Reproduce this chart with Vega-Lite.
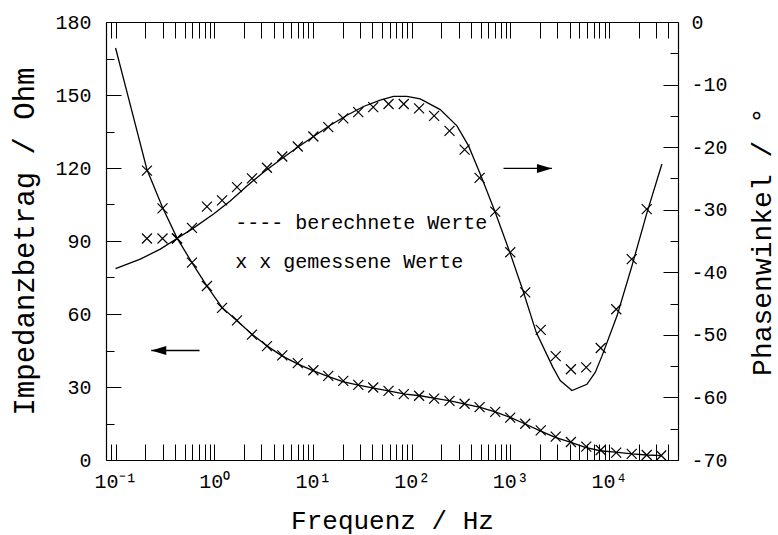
{
  "$schema": "https://vega.github.io/schema/vega-lite/v6.json",
  "width": 572,
  "height": 438,
  "autosize": {"type": "none"},
  "padding": {"left": 106, "top": 22, "right": 100, "bottom": 75},
  "background": "white",
  "config": {
    "view": {"stroke": null},
    "font": "Liberation Mono",
    "axis": {
      "domainColor": "#000", "domainWidth": 1.2, "tickColor": "#000", "tickWidth": 1,
      "labelColor": "#000", "titleColor": "#000", "labelFont": "Liberation Mono", "titleFont": "Liberation Mono",
      "titleFontWeight": "normal", "labelFontSize": 20, "titleFontSize": 29, "grid": false,
      "labelFlush": false, "labelOverlap": false
    }
  },
  "datasets": {
    "zLine": [
      {"f": 0.1, "z": 169.3}, {"f": 0.1442, "z": 144.4}, {"f": 0.2079, "z": 119.4}, {"f": 0.2994, "z": 103.8},
      {"f": 0.4188, "z": 91.3}, {"f": 0.5942, "z": 81.1}, {"f": 0.8433, "z": 71.5}, {"f": 1.197, "z": 62.7},
      {"f": 1.698, "z": 57.2}, {"f": 2.41, "z": 51.7}, {"f": 3.42, "z": 46.9}, {"f": 4.852, "z": 42.8},
      {"f": 7.047, "z": 39.4}, {"f": 10.14, "z": 36.6}, {"f": 14.39, "z": 34.3}, {"f": 20.42, "z": 32.1},
      {"f": 28.97, "z": 30.8}, {"f": 41.11, "z": 29.5}, {"f": 58.34, "z": 28.4}, {"f": 86.1, "z": 27.1},
      {"f": 122.2, "z": 26.4}, {"f": 173.4, "z": 25.3}, {"f": 246.1, "z": 24.3}, {"f": 349.3, "z": 23.0},
      {"f": 495.5, "z": 21.6}, {"f": 703.1, "z": 19.8}, {"f": 997.7, "z": 17.5}, {"f": 1416, "z": 14.8},
      {"f": 2009, "z": 12.0}, {"f": 2851, "z": 9.3}, {"f": 4045, "z": 7.3}, {"f": 5741, "z": 5.2},
      {"f": 8143, "z": 3.8}, {"f": 11560, "z": 3.2}, {"f": 17060, "z": 2.5}, {"f": 24210, "z": 2.05},
      {"f": 34590, "z": 1.8}
    ],
    "zMeas": [
      {"f": 0.208, "z": 118.9}, {"f": 0.299, "z": 103.4}, {"f": 0.419, "z": 91.1}, {"f": 0.594, "z": 81.1},
      {"f": 0.843, "z": 71.5}, {"f": 1.2, "z": 62.5}, {"f": 1.7, "z": 57.4}, {"f": 2.41, "z": 51.5},
      {"f": 3.42, "z": 46.8}, {"f": 4.89, "z": 43.0}, {"f": 7.02, "z": 39.8}, {"f": 10.1, "z": 36.9},
      {"f": 14.3, "z": 34.6}, {"f": 20.3, "z": 32.5}, {"f": 28.8, "z": 30.9}, {"f": 40.8, "z": 29.8},
      {"f": 58.3, "z": 28.4}, {"f": 83.2, "z": 27.1}, {"f": 119, "z": 26.4}, {"f": 169, "z": 25.2},
      {"f": 242, "z": 24.3}, {"f": 344, "z": 23.1}, {"f": 488, "z": 21.7}, {"f": 703, "z": 19.8},
      {"f": 998, "z": 17.4}, {"f": 1416, "z": 14.9}, {"f": 2032, "z": 12.2}, {"f": 2884, "z": 9.6},
      {"f": 4111, "z": 7.4}, {"f": 5875, "z": 5.5}, {"f": 8240, "z": 4.1}, {"f": 11830, "z": 3.0},
      {"f": 16980, "z": 2.5}, {"f": 24100, "z": 2.05}, {"f": 33800, "z": 1.85}
    ],
    "pLine": [
      {"f": 0.1, "p": -39.4}, {"f": 0.178, "p": -37.9}, {"f": 0.284, "p": -36.3}, {"f": 0.419, "p": -34.6},
      {"f": 0.594, "p": -33.1}, {"f": 0.984, "p": -30.7}, {"f": 1.452, "p": -28.6}, {"f": 2.145, "p": -26.2},
      {"f": 3.159, "p": -24.0}, {"f": 4.664, "p": -22.0}, {"f": 6.886, "p": -20.1}, {"f": 10.14, "p": -18.3},
      {"f": 14.97, "p": -16.5}, {"f": 22.11, "p": -14.9}, {"f": 32.56, "p": -13.5}, {"f": 48.07, "p": -12.5},
      {"f": 65.55, "p": -11.9}, {"f": 89.6, "p": -11.9}, {"f": 122.2, "p": -12.3}, {"f": 194.9, "p": -14.0},
      {"f": 287.7, "p": -16.6}, {"f": 377.3, "p": -19.8}, {"f": 495.5, "p": -24.3}, {"f": 703, "p": -30.4},
      {"f": 998, "p": -37.0}, {"f": 1360, "p": -43.2}, {"f": 1830, "p": -49.6}, {"f": 2701, "p": -55.2},
      {"f": 3203, "p": -57.3}, {"f": 4209, "p": -58.9}, {"f": 5972, "p": -57.9}, {"f": 7248, "p": -56.0},
      {"f": 8475, "p": -53.4}, {"f": 12030, "p": -47.0}, {"f": 17060, "p": -39.0}, {"f": 24210, "p": -30.5},
      {"f": 34360, "p": -22.7}
    ],
    "pMeas": [
      {"f": 0.208, "p": -34.6}, {"f": 0.299, "p": -34.6}, {"f": 0.419, "p": -34.6}, {"f": 0.594, "p": -32.9},
      {"f": 0.843, "p": -29.5}, {"f": 1.2, "p": -28.5}, {"f": 1.7, "p": -26.4}, {"f": 2.41, "p": -25.0},
      {"f": 3.42, "p": -23.3}, {"f": 4.89, "p": -21.5}, {"f": 7.02, "p": -19.9}, {"f": 10.1, "p": -18.3},
      {"f": 14.3, "p": -16.8}, {"f": 20.3, "p": -15.4}, {"f": 28.8, "p": -14.4}, {"f": 40.8, "p": -13.6},
      {"f": 58.3, "p": -13.1}, {"f": 83.2, "p": -13.1}, {"f": 119, "p": -13.8}, {"f": 169, "p": -15.0},
      {"f": 242, "p": -17.4}, {"f": 344, "p": -20.4}, {"f": 488, "p": -24.9}, {"f": 703, "p": -30.3},
      {"f": 998, "p": -36.8}, {"f": 1416, "p": -43.2}, {"f": 2032, "p": -49.2}, {"f": 2884, "p": -53.4},
      {"f": 4111, "p": -55.5}, {"f": 5875, "p": -55.2}, {"f": 8240, "p": -52.1}, {"f": 11830, "p": -45.9},
      {"f": 16980, "p": -37.9}, {"f": 24100, "p": -29.9}
    ],
    "notes": [
      {"f": 1.63, "z": 94.8, "label": "---- berechnete Werte"},
      {"f": 1.63, "z": 79.0, "label": "x x gemessene Werte"}
    ],
    "arrowZ": [{"f": 0.23, "f2": 0.71, "z": 45}],
    "arrowP": [{"f": 2640, "f2": 853, "p": -23.4}]
  },
  "layer": [
    {
      "encoding": {
        "x": {
          "field": "f", "type": "quantitative",
          "scale": {"type": "log", "domain": [0.08, 50000], "nice": false},
          "axis": {
            "orient": "bottom",
            "values": [0.09, 0.1, 0.2, 0.3, 0.4, 0.5, 0.6, 0.7, 0.8, 0.9, 1, 2, 3, 4, 5, 6, 7, 8, 9, 10, 20, 30, 40, 50, 60, 70, 80, 90, 100, 200, 300, 400, 500, 600, 700, 800, 900, 1000, 2000, 3000, 4000, 5000, 6000, 7000, 8000, 9000, 10000, 20000, 30000, 40000],
            "tickSize": -16,
            "labelPadding": 27,
            "labelBaseline": "top",
            "labelExpr": "datum.value === 0.1 ? '10⁻¹' : datum.value === 1 ? '10⁰' : datum.value === 10 ? '10¹' : datum.value === 100 ? '10²' : datum.value === 1000 ? '10³' : datum.value === 10000 ? '10⁴' : ''",
            "title": "Frequenz / Hz",
            "titleFontSize": 26,
            "titlePadding": 16
          }
        },
        "y": {
          "field": "z", "type": "quantitative",
          "scale": {"domain": [0, 180], "nice": false},
          "axis": {
            "orient": "left",
            "values": [0, 30, 60, 90, 120, 150, 180],
            "tickSize": -15,
            "labelPadding": 30,
            "title": "Impedanzbetrag / Ohm",
            "titlePadding": 15
          }
        }
      },
      "layer": [
        {
          "data": {"name": "zLine"},
          "mark": {"type": "line", "color": "#000", "strokeWidth": 1.3}
        },
        {
          "data": {"name": "zMeas"},
          "mark": {"type": "point", "shape": "M -1 -1 L 1 1 M -1 1 L 1 -1", "size": 100, "filled": false, "stroke": "#000", "strokeWidth": 1.2, "opacity": 1}
        },
        {
          "data": {"name": "notes"},
          "mark": {"type": "text", "align": "left", "baseline": "alphabetic", "font": "Liberation Mono", "fontSize": 20, "color": "#000"},
          "encoding": {"text": {"field": "label"}}
        },
        {
          "data": {"name": "arrowZ"},
          "mark": {"type": "rule", "color": "#000", "strokeWidth": 1.3},
          "encoding": {"x2": {"field": "f2"}}
        },
        {
          "data": {"name": "arrowZ"},
          "mark": {"type": "point", "shape": "M 0 0 L 2 -0.6 L 2 0.6 Z", "size": 225, "filled": true, "color": "#000", "opacity": 1}
        }
      ]
    },
    {
      "encoding": {
        "x": {
          "field": "f", "type": "quantitative",
          "scale": {"type": "log", "domain": [0.08, 50000], "nice": false},
          "axis": {
            "orient": "top",
            "values": [0.09, 0.1, 0.2, 0.3, 0.4, 0.5, 0.6, 0.7, 0.8, 0.9, 1, 2, 3, 4, 5, 6, 7, 8, 9, 10, 20, 30, 40, 50, 60, 70, 80, 90, 100, 200, 300, 400, 500, 600, 700, 800, 900, 1000, 2000, 3000, 4000, 5000, 6000, 7000, 8000, 9000, 10000, 20000, 30000, 40000],
            "tickSize": -16,
            "labels": false,
            "title": null
          }
        },
        "y": {
          "field": "p", "type": "quantitative",
          "scale": {"domain": [-70, 0], "nice": false},
          "axis": {
            "orient": "right",
            "values": [0, -10, -20, -30, -40, -50, -60, -70],
            "tickSize": -15,
            "labelPadding": 28,
            "labelExpr": "'' + datum.value",
            "title": "Phasenwinkel / °",
            "titleFontSize": 28,
            "titleAngle": 270,
            "titleBaseline": "top",
            "titlePadding": 21
          }
        }
      },
      "layer": [
        {
          "data": {"name": "pLine"},
          "mark": {"type": "line", "color": "#000", "strokeWidth": 1.3}
        },
        {
          "data": {"name": "pMeas"},
          "mark": {"type": "point", "shape": "M -1 -1 L 1 1 M -1 1 L 1 -1", "size": 100, "filled": false, "stroke": "#000", "strokeWidth": 1.2, "opacity": 1}
        },
        {
          "data": {"name": "arrowP"},
          "mark": {"type": "rule", "color": "#000", "strokeWidth": 1.3},
          "encoding": {"x2": {"field": "f2"}}
        },
        {
          "data": {"name": "arrowP"},
          "mark": {"type": "point", "shape": "M 0 0 L -2 -0.6 L -2 0.6 Z", "size": 225, "filled": true, "color": "#000", "opacity": 1}
        }
      ]
    },
    {
      "data": {"name": "zMeas"},
      "mark": {"type": "point", "opacity": 0},
      "encoding": {
        "y": {
          "field": "z", "type": "quantitative",
          "scale": {"domain": [0, 180], "nice": false},
          "axis": {
            "orient": "left",
            "values": [15, 45, 75, 105, 135, 165],
            "tickSize": -8,
            "labels": false,
            "domain": false,
            "title": null
          }
        }
      }
    },
    {
      "data": {"name": "pMeas"},
      "mark": {"type": "point", "opacity": 0},
      "encoding": {
        "y": {
          "field": "p", "type": "quantitative",
          "scale": {"domain": [-70, 0], "nice": false},
          "axis": {
            "orient": "right",
            "values": [-5, -15, -25, -35, -45, -55, -65],
            "tickSize": -8,
            "labels": false,
            "domain": false,
            "title": null
          }
        }
      }
    }
  ],
  "resolve": {"scale": {"y": "independent"}, "axis": {"x": "independent", "y": "independent"}}
}
